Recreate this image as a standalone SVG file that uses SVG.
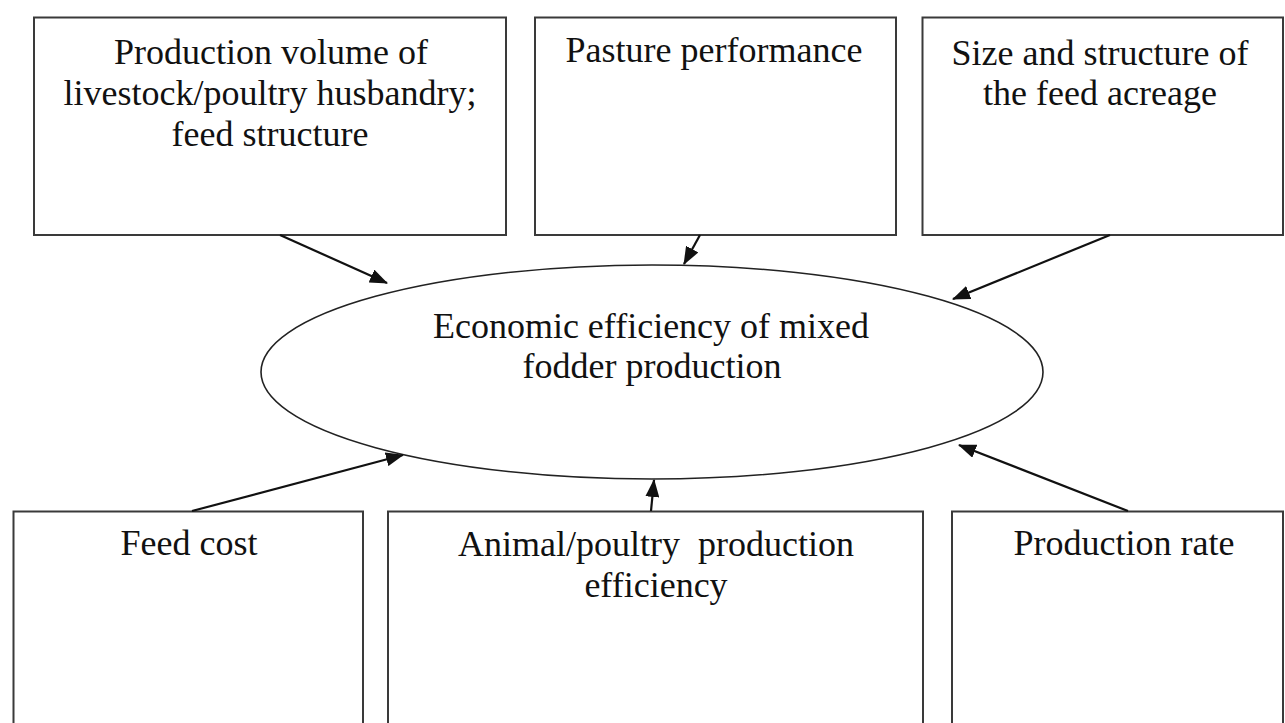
<svg xmlns="http://www.w3.org/2000/svg" width="1285" height="723" viewBox="0 0 1285 723">
<style>
.box{fill:#fff;stroke:#3a3a3a;stroke-width:2}
.ell{fill:#fff;stroke:#222;stroke-width:1.6}
.t{font-family:"Liberation Serif","Times New Roman",serif;font-size:36px;fill:#111;text-anchor:middle}
.c{stroke:#111;stroke-width:2.2;fill:none;marker-end:url(#ah)}
</style>
<defs>
<marker id="ah" markerWidth="18" markerHeight="14" refX="17" refY="7" orient="auto" markerUnits="userSpaceOnUse">
<path d="M0,0 L18,7 L0,14 z" fill="#111"/>
</marker>
</defs>
<rect width="1285" height="723" fill="#fff"/>
<g id="n-production-volume">
<rect class="box" x="34" y="17.5" width="472" height="217.5"/>
<text class="t" x="271" y="64">Production volume of</text>
<text class="t" x="270" y="105">livestock/poultry husbandry;</text>
<text class="t" x="270" y="146">feed structure</text>
</g>
<g id="n-pasture">
<rect class="box" x="535" y="17.5" width="361" height="217.5"/>
<text class="t" x="714" y="62">Pasture performance</text>
</g>
<g id="n-feed-acreage">
<rect class="box" x="922.5" y="17.5" width="360.5" height="217.5"/>
<text class="t" x="1100" y="65">Size and structure of</text>
<text class="t" x="1100" y="105">the feed acreage</text>
</g>
<g id="n-center">
<ellipse class="ell" cx="652" cy="372" rx="391" ry="107"/>
<text class="t" x="651" y="338">Economic efficiency of mixed</text>
<text class="t" x="652" y="378">fodder production</text>
</g>
<g id="n-feed-cost">
<rect class="box" x="13.5" y="511.5" width="349.5" height="230"/>
<text class="t" x="189" y="555">Feed cost</text>
</g>
<g id="n-animal-efficiency">
<rect class="box" x="388" y="511.5" width="535" height="230"/>
<text class="t" x="656" y="556" xml:space="preserve">Animal/poultry  production</text>
<text class="t" x="656" y="597">efficiency</text>
</g>
<g id="n-production-rate">
<rect class="box" x="952" y="511.5" width="331" height="230"/>
<text class="t" x="1124" y="555">Production rate</text>
</g>
<g id="connectors">
<line class="c" x1="280" y1="235" x2="387" y2="283"/>
<line class="c" x1="700" y1="235" x2="684" y2="264"/>
<line class="c" x1="1110" y1="235" x2="953" y2="299"/>
<line class="c" x1="192" y1="511" x2="403" y2="455"/>
<line class="c" x1="651" y1="511" x2="654" y2="480"/>
<line class="c" x1="1128" y1="511" x2="959" y2="445"/>
</g>
</svg>
